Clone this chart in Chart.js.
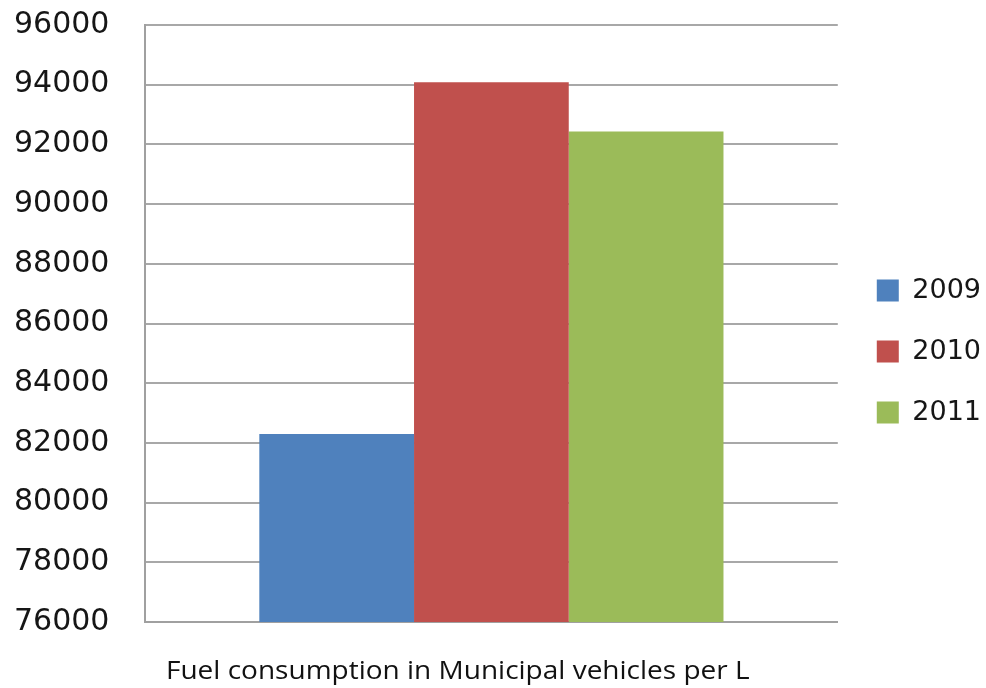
<!DOCTYPE html>
<html>
<head>
<meta charset="utf-8">
<script src="https://cdn.jsdelivr.net/npm/chart.js@4.4.0/dist/chart.umd.min.js"></script>
<style>
  html, body { margin: 0; padding: 0; background: #fff; }
  #wrap { position: relative; width: 986px; height: 688px; }
  #caption {
    position: absolute; left: 166px; top: 654px;
    font-family: "Open Sans", sans-serif; font-size: 25px; line-height: 30px; color: #111;
    white-space: nowrap;
    transform: scaleX(1.12); transform-origin: left center;
  }
</style>
</head>
<body>
<div id="wrap">
  <canvas id="fuelChart" width="986" height="688"></canvas>
  <div id="caption"></div>
</div>
<script>
const categories = ["Fuel consumption in Municipal vehicles per L"];
const years = ["2009", "2010", "2011"];
const fuelUsed = [82300, 94080, 92430];
const yTicks = [76000, 78000, 80000, 82000, 84000, 86000, 88000, 90000, 92000, 94000, 96000];
const colors = ["#4F81BD", "#C0504D", "#9BBB59"];

document.getElementById("caption").textContent = categories[0];

// nudge the legend column down/right so it sits like the original
const legendShift = {
  id: "legendShift",
  afterLayout(chart) {
    const lg = chart.legend;
    lg.top += 28; lg.bottom += 28;
    lg.left += 5; lg.right += 5;
  }
};

const ctx = document.getElementById("fuelChart").getContext("2d");

const chart = new Chart(ctx, {
  type: "bar",
  data: {
    labels: categories,
    datasets: years.map((yr, i) => ({
      label: yr,
      data: [fuelUsed[i]],
      backgroundColor: colors[i],
      borderWidth: 0
    }))
  },
  options: {
    responsive: false,
    animation: false,
    devicePixelRatio: 1,
    layout: { padding: { left: 14, right: 0, top: 25, bottom: 66 } },
    datasets: {
      bar: { barPercentage: 1.0, categoryPercentage: 0.67 }
    },
    scales: {
      x: {
        ticks: { display: false },
        grid: { display: false, drawTicks: false },
        border: { display: true, color: "#a0a0a0", width: 2 }
      },
      y: {
        min: yTicks[0],
        max: yTicks[yTicks.length - 1],
        afterBuildTicks: (axis) => { axis.ticks = yTicks.map(v => ({ value: v })); },
        afterFit: (axis) => { axis.width = 131; },
        ticks: {
          padding: 0,
          crossAlign: "far",
          color: "#161616",
          font: { family: "DejaVu Sans", size: 30 },
          callback: (v) => String(v)
        },
        grid: { color: "#a8a8a8", lineWidth: 2, drawTicks: false },
        border: { display: true, color: "#a0a0a0", width: 2 }
      }
    },
    plugins: {
      legend: {
        position: "right",
        labels: {
          color: "#161616",
          font: { family: "DejaVu Sans", size: 27 },
          boxWidth: 22,
          boxHeight: 22,
          padding: 34
        }
      },
      tooltip: { enabled: false },
      title: { display: false }
    }
  },
  plugins: [legendShift]
});
</script>
</body>
</html>
